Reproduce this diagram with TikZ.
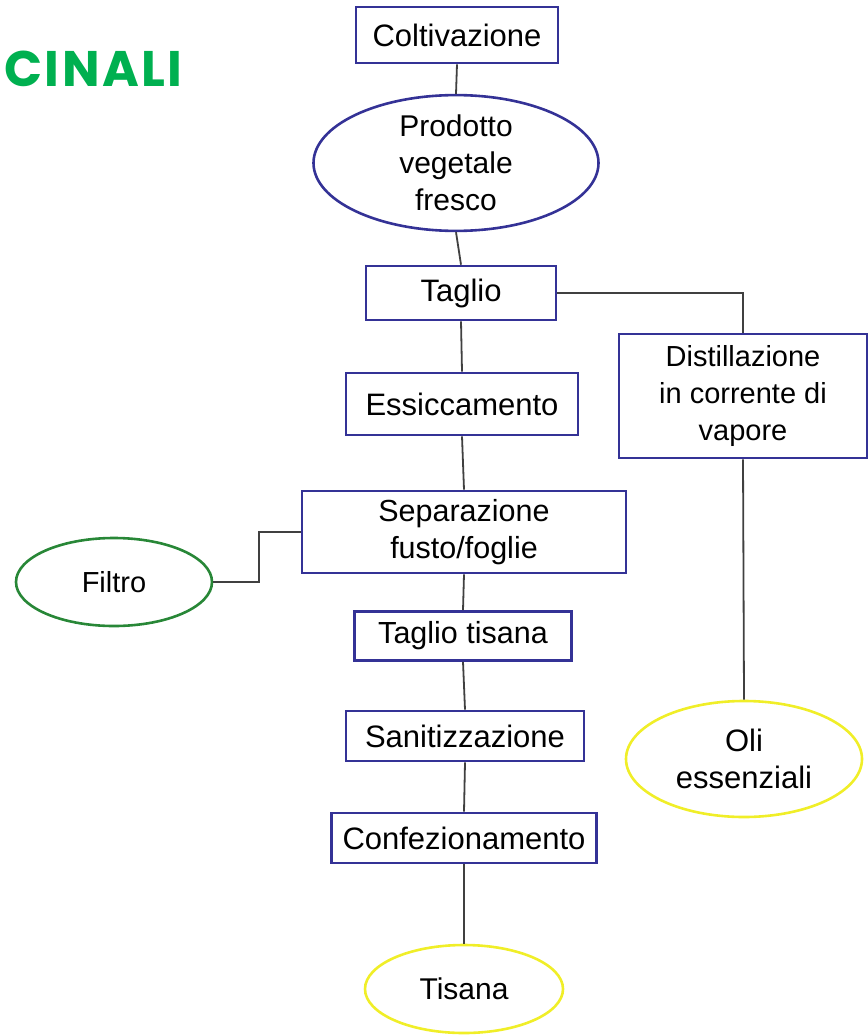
\documentclass[tikz,border=0pt]{standalone}
\usepackage{fontspec}
\setmainfont{Liberation Sans}
\newfontfamily\titlefont{Poppins}[LetterSpace=5]
\usetikzlibrary{shapes.geometric}
\definecolor{boxblue}{RGB}{52,50,150}
\definecolor{linegrey}{RGB}{64,64,64}
\definecolor{ovgreen}{RGB}{40,135,55}
\definecolor{ovyellow}{RGB}{240,238,40}
\definecolor{titlegreen}{RGB}{0,176,80}
\newcommand{\fsz}[1]{\fontsize{#1}{37}\selectfont}
\tikzset{
  stepbox/.style={draw=boxblue,line width=2.6pt,rectangle,inner sep=0pt,align=center,
    font=\fsz{31},text=black},
  ovblue/.style={draw=boxblue,line width=2.6pt,ellipse,inner sep=0pt,align=center,
    font=\fsz{30},text=black},
  ovgreenst/.style={draw=ovgreen,line width=2.6pt,ellipse,inner sep=0pt,align=center,
    font=\fsz{29},text=black},
  ovyellowst/.style={draw=ovyellow,line width=2.6pt,ellipse,inner sep=0pt,align=center,
    font=\fsz{30},text=black},
  link/.style={draw=linegrey,line width=1.8pt}
}
\begin{document}
\begin{tikzpicture}[x=1pt,y=-1pt]
\useasboundingbox (0,0) rectangle (867,1035);
\node[anchor=base west,text=titlegreen,font=\titlefont\bfseries\fontsize{50}{54}\selectfont,inner sep=0pt] (title) at (4,87) {CINALI};

\node[stepbox,minimum width=202pt,minimum height=56pt] (colt) at (457,35) {Coltivazione};
\node[ovblue,minimum width=285pt,minimum height=120pt] (prod) at (456,163) {Prodotto\\vegetale\\fresco};
\node[stepbox,minimum width=190pt,minimum height=54pt] (taglio) at (461,293) {Taglio};
\node[stepbox,minimum width=248pt,minimum height=124pt,font=\fsz{29}] (dist) at (743,396) {Distillazione\\in corrente di\\vapore};
\node[stepbox,minimum width=232pt,minimum height=62pt] (ess) at (462,404) {Essiccamento};
\node[stepbox,minimum width=324pt,minimum height=82pt,font=\fsz{30.5}] (sep) at (464,532) {Separazione\\fusto/foglie};
\node[ovgreenst,minimum width=196pt,minimum height=88pt] (filtro) at (114,582) {Filtro};
\node[stepbox,minimum width=217pt,minimum height=49pt,font=\fsz{30.5}] (ttis) at (463,636) {Taglio tisana};
\node[stepbox,minimum width=238pt,minimum height=50pt] (san) at (465,736) {Sanitizzazione};
\node[stepbox,minimum width=265pt,minimum height=50pt] (conf) at (464,838) {Confezionamento};
\node[ovyellowst,minimum width=198pt,minimum height=88pt] (tisana) at (464,989) {Tisana};
\node[ovyellowst,minimum width=236pt,minimum height=116pt,font=\fsz{31}] (oli) at (744,759) {Oli\\essenziali};

\draw[link] (colt.south) -- (prod.north);
\draw[link] (prod.south) -- (taglio.north);
\draw[link] (taglio.east) -| (dist.north);
\draw[link] (taglio.south) -- (ess.north);
\draw[link] (ess.south) -- (sep.north);
\draw[link] (filtro.east) -- ++(46,0) |- (sep.west);
\draw[link] (sep.south) -- (ttis.north);
\draw[link] (ttis.south) -- (san.north);
\draw[link] (san.south) -- (conf.north);
\draw[link] (conf.south) -- (tisana.north);
\draw[link] (dist.south) -- (oli.north);
\end{tikzpicture}
\end{document}
